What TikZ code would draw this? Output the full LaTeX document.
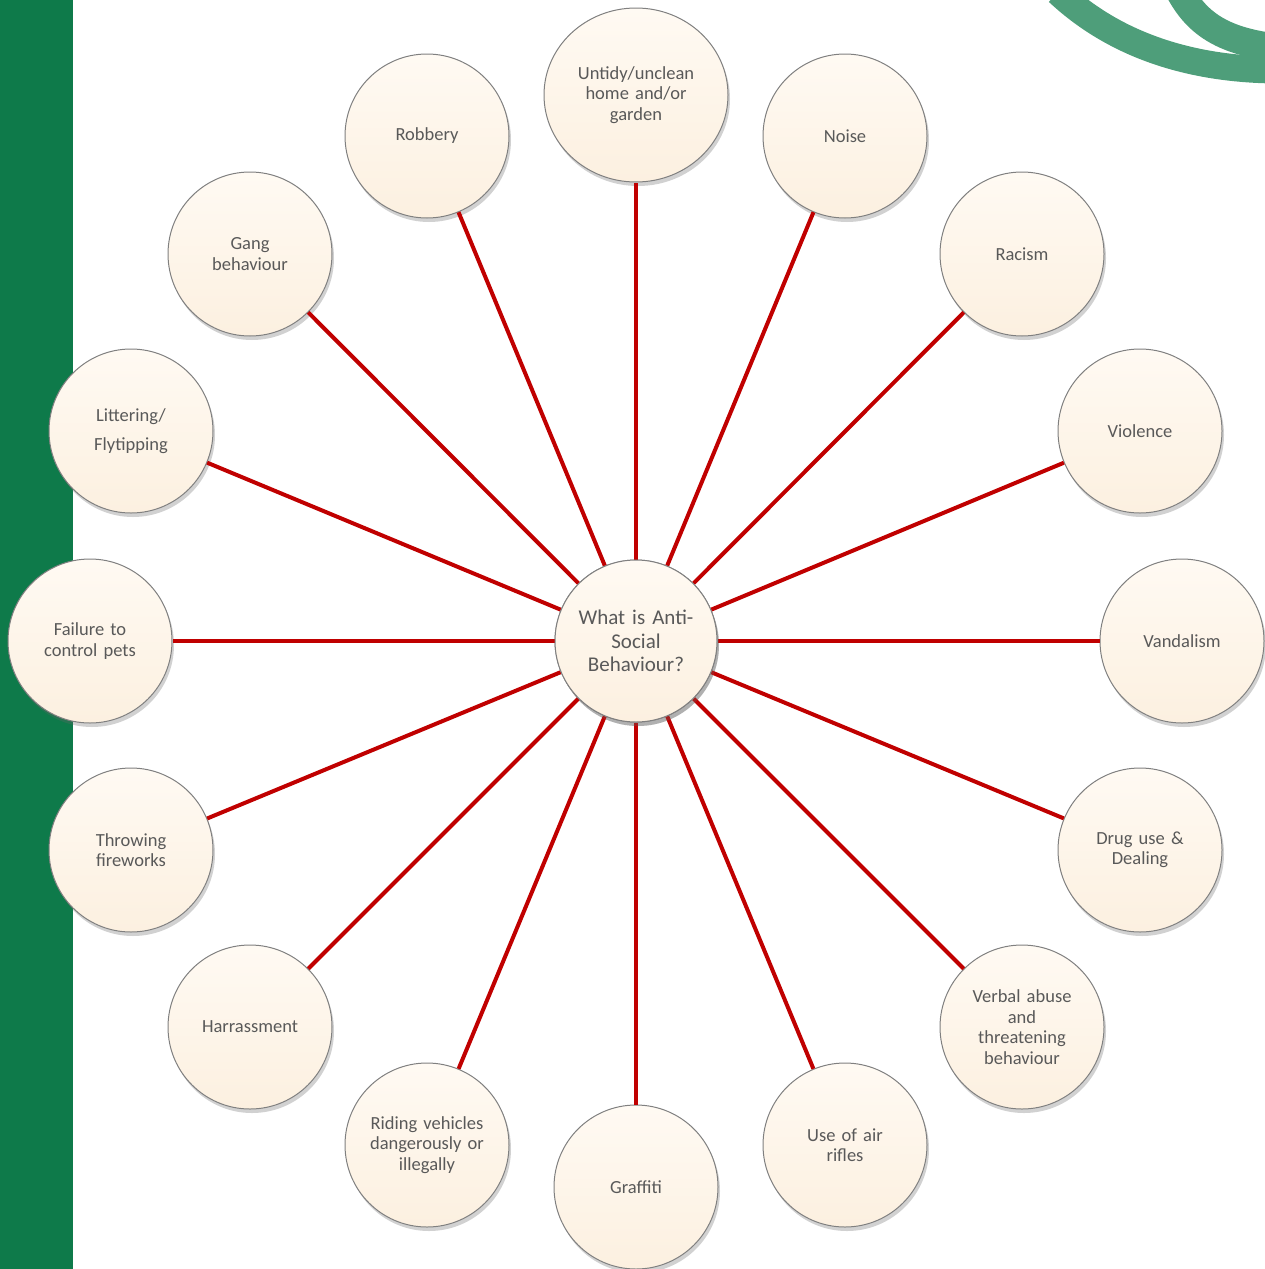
\documentclass[tikz,border=0pt]{standalone}
\usepackage{fontspec}
\setmainfont{Carlito}
\usetikzlibrary{shadows,shapes.geometric}
\definecolor{bandgreen}{HTML}{0E7A4A}
\definecolor{arcgreen}{HTML}{4E9E7A}
\definecolor{spoke}{HTML}{C00000}
\definecolor{txt}{HTML}{595959}
\definecolor{ctop}{HTML}{FFFAF3}
\definecolor{cbot}{HTML}{FCF0E0}
\definecolor{rim}{HTML}{808080}
\tikzset{
  bubble/.style={circle, minimum size=164pt, inner sep=0pt, draw=rim, line width=1pt,
    top color=ctop, bottom color=cbot, text=txt, align=center, text width=140pt,
    font=\fontsize{18.5}{20.5}\selectfont,
    drop shadow={shadow xshift=2pt, shadow yshift=-4pt, opacity=0.3, fill=black!60}},
  hub/.style={bubble, minimum size=162pt, font=\fontsize{21}{23.5}\selectfont},
  spokeline/.style={draw=spoke, line width=4pt}
}
\begin{document}
\begin{tikzpicture}[x=1pt,y=-1pt]
\useasboundingbox (0,0) rectangle (1265,1269);
\begin{scope}
\clip (0,0) rectangle (1265,1269);
\fill[bandgreen] (0,0) rectangle (73,1269);
\draw[arcgreen, line width=27pt] (1058,-8) .. controls (1120,50) and (1200,70) .. (1280,70);
\draw[arcgreen, line width=28pt] (1180,-8) .. controls (1198,25) and (1225,42) .. (1280,48);
\end{scope}
\coordinate (c) at (636,641);
\node[hub] (hub) at (c) {What is Anti-\\Social\\Behaviour?};
\node[bubble, ellipse, text width=120pt, minimum width=184pt, minimum height=174pt] (n0) at (636,95) {Untidy/unclean\\home and/or\\garden};
\node[bubble] (n1) at (845,136) {Noise};
\node[bubble] (n2) at (1022,254) {Racism};
\node[bubble] (n3) at (1140,431) {Violence};
\node[bubble] (n4) at (1182,641) {Vandalism};
\node[bubble] (n5) at (1140,850) {Drug use \&\\Dealing};
\node[bubble] (n6) at (1022,1027) {Verbal abuse\\and\\threatening\\behaviour};
\node[bubble] (n7) at (845,1145) {Use of air\\rifles};
\node[bubble] (n8) at (636,1187) {Graffiti};
\node[bubble] (n9) at (427,1145) {Riding vehicles\\dangerously or\\illegally};
\node[bubble] (n10) at (250,1027) {Harrassment};
\node[bubble] (n11) at (131,850) {Throwing\\fireworks};
\node[bubble] (n12) at (90,641) {Failure to\\control pets};
\node[bubble, font=\fontsize{18.5}{29}\selectfont] (n13) at (131,431) {Littering/\\Flytipping};
\node[bubble] (n14) at (250,254) {Gang\\behaviour};
\node[bubble] (n15) at (427,136) {Robbery};
\foreach \i in {0,...,15}{
  \path[spokeline] (hub) -- (n\i);
}
\node[hub] at (c) {What is Anti-\\Social\\Behaviour?};
\end{tikzpicture}
\end{document}
